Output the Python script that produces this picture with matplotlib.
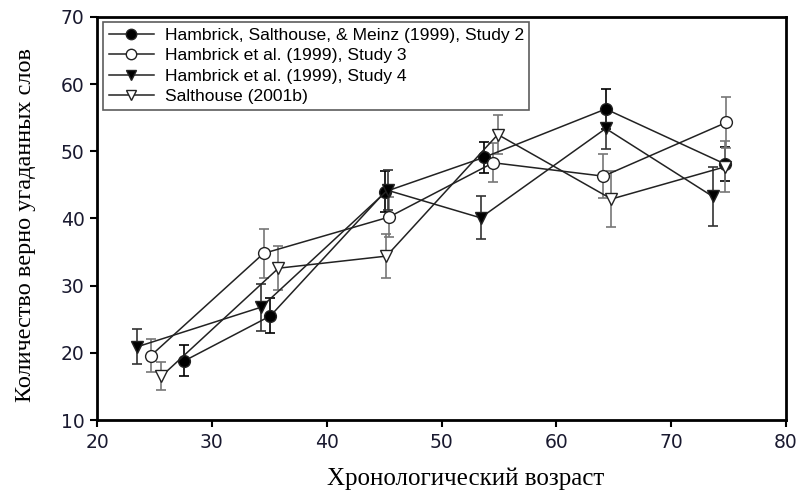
import numpy as np
import matplotlib
matplotlib.use("Agg")
import matplotlib.pyplot as plt

# values (mean, +/- error)
labels = ["Hambrick, Salthouse, & Meinz (1999), Study 2",
          "Hambrick et al. (1999), Study 3",
          "Hambrick et al. (1999), Study 4",
          "Salthouse (2001b)"]

age_s2 = [27.6, 35.1, 45.1, 53.7, 64.3, 74.7]
score_s2 = [18.8, 25.5, 44.0, 49.1, 56.3, 48.1]
err_s2 = [2.3, 2.6, 3.0, 2.3, 3.0, 2.5]

age_s3 = [24.7, 34.5, 45.4, 54.5, 64.1, 74.8]
score_s3 = [19.6, 34.8, 40.2, 48.3, 46.3, 54.3]
err_s3 = [2.4, 3.7, 3.0, 2.9, 3.3, 3.8]

age_s4 = [23.5, 34.3, 45.3, 53.4, 64.3, 73.6]
score_s4 = [20.9, 26.8, 44.2, 40.1, 53.4, 43.3]
err_s4 = [2.6, 3.5, 3.0, 3.2, 3.0, 4.4]

age_sh = [25.6, 35.8, 45.2, 54.9, 64.8, 74.7]
score_sh = [16.5, 32.6, 34.4, 52.5, 42.9, 47.7]
err_sh = [2.1, 3.3, 3.3, 2.9, 4.2, 3.8]

x_ticks = [20, 30, 40, 50, 60, 70, 80]
y_ticks = [10, 20, 30, 40, 50, 60, 70]

fig = plt.figure(figsize=(7.98, 4.95), dpi=100)
ax = fig.add_axes([0.1216, 0.1515, 0.8634, 0.8142])

series = [
    (age_s2, score_s2, err_s2, "o", "black", "black"),
    (age_s3, score_s3, err_s3, "o", "white", "#777777"),
    (age_s4, score_s4, err_s4, "v", "black", "#333333"),
    (age_sh, score_sh, err_sh, "v", "white", "#777777"),
]
for (x, y, e, m, fc, ec), lab in zip(series, labels):
    ax.errorbar(x, y, yerr=e, fmt="none", ecolor=ec, elinewidth=1.2,
                capsize=3.5, capthick=1.2, zorder=2)
    ax.plot(x, y, color="#222222", lw=1.1, marker=m, markersize=8.5,
            markerfacecolor=fc, markeredgecolor="#222222", markeredgewidth=1.0,
            label=lab, zorder=3)

ax.set_xlim(20, 80)
ax.set_ylim(10, 70)
ax.set_xticks(x_ticks)
ax.set_yticks(y_ticks)
for s in ax.spines.values():
    s.set_linewidth(2.0)
ax.tick_params(direction="out", length=5, width=1.5, labelsize=13.5,
               labelcolor="#1a1a30", pad=4)
for t in ax.get_xticklabels() + ax.get_yticklabels():
    t.set_family("DejaVu Sans")
    t.set_fontweight("medium")

ax.set_xlabel("Хронологический возраст", family="Liberation Serif",
              fontsize=18)
ax.set_ylabel("Количество верно угаданных слов", family="Liberation Serif",
              fontsize=17.5)
ax.xaxis.set_label_coords(0.535, -0.118)
ax.yaxis.set_label_coords(-0.089, 0.484)

leg = ax.legend(loc="upper left", bbox_to_anchor=(0.004, 0.995),
                prop={"family": "Liberation Sans", "size": 12.6},
                frameon=True, fancybox=False, edgecolor="#333333",
                handlelength=2.6, handletextpad=0.6, borderpad=0.3,
                labelspacing=0.3, borderaxespad=0.2)
leg.get_frame().set_linewidth(1.2)
for h in leg.legend_handles:
    h.set_markersize(7.5)

fig.savefig("out.png", dpi=100)
